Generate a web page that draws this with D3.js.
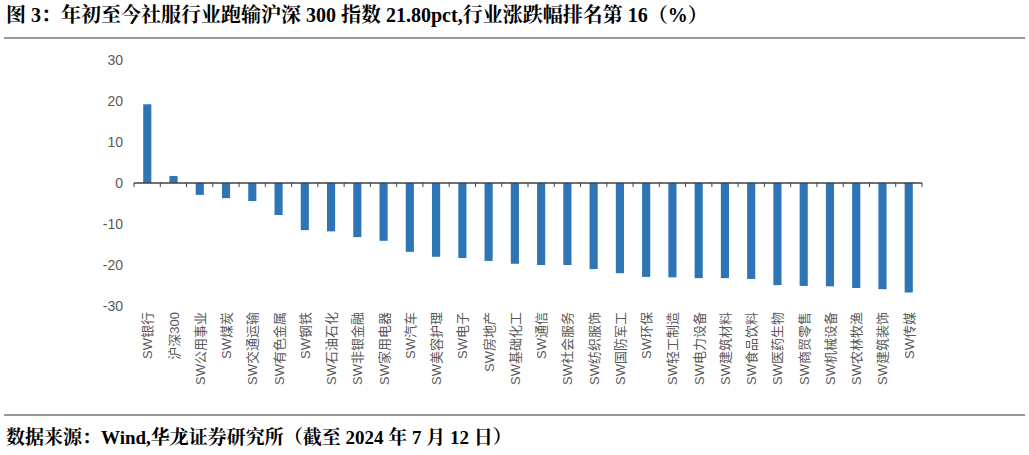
<!DOCTYPE html>
<html><head><meta charset="utf-8">
<script src="https://cdn.jsdelivr.net/npm/d3@7"></script>
<style>body{margin:0;background:#fff}</style></head>
<body><svg id="c" width="1029" height="455"></svg>
<script>
const categories=["SW银行","沪深300","SW公用事业","SW煤炭","SW交通运输","SW有色金属","SW钢铁","SW石油石化","SW非银金融","SW家用电器","SW汽车","SW美容护理","SW电子","SW房地产","SW基础化工","SW通信","SW社会服务","SW纺织服饰","SW国防军工","SW环保","SW轻工制造","SW电力设备","SW建筑材料","SW食品饮料","SW医药生物","SW商贸零售","SW机械设备","SW农林牧渔","SW建筑装饰","SW传媒"];
const values=[19.2,1.7,-2.9,-3.7,-4.4,-7.8,-11.5,-11.8,-13.2,-14.1,-16.8,-18.0,-18.3,-19.0,-19.7,-20.0,-20.0,-21.0,-22.0,-22.9,-23.0,-23.2,-23.2,-23.4,-24.9,-25.1,-25.2,-25.6,-25.9,-26.7];
const yTicks=[30,20,10,0,-10,-20,-30];
const svg=d3.select("#c");
const x=d3.scaleBand().domain(categories).range([134,922]).paddingInner(0.69).paddingOuter(0.35);
const y=d3.scaleLinear().domain([-30,30]).range([306,60]);
const serif="'Liberation Serif','Noto Serif CJK SC','Noto Sans CJK SC',serif";
svg.append("text").attr("x",6).attr("y",22).attr("font-family",serif).attr("font-weight","bold").attr("font-size",20).attr("fill","#000").text("图 3：年初至今社服行业跑输沪深 300 指数 21.80pct,行业涨跌幅排名第 16（%）");
svg.append("line").attr("x1",4).attr("x2",1025).attr("y1",38).attr("y2",38).attr("stroke","#333").attr("stroke-width",1);
svg.append("line").attr("x1",4).attr("x2",1025).attr("y1",415).attr("y2",415).attr("stroke","#333").attr("stroke-width",1);
svg.append("text").attr("x",6).attr("y",444).attr("font-family",serif).attr("font-weight","bold").attr("font-size",19).text("数据来源：Wind,华龙证券研究所（截至 2024 年 7 月 12 日）");
const g=svg.append("g").attr("font-family","'Liberation Sans',Arial,'Noto Sans CJK SC',sans-serif");
yTicks.forEach(t=>g.append("text").attr("x",123).attr("y",y(t)+5).attr("text-anchor","end").attr("font-size",14).attr("fill","#595959").text(t));
g.selectAll("rect").data(values).join("rect").attr("x",(d,i)=>x(categories[i])).attr("width",x.bandwidth())
 .attr("y",d=>y(Math.max(0,d))).attr("height",d=>Math.abs(y(d)-y(0))).attr("fill","#2e75b6");
g.append("line").attr("x1",134).attr("x2",922).attr("y1",y(0)).attr("y2",y(0)).attr("stroke","#404040").attr("stroke-width",1.5);
for(let i=0;i<=categories.length;i++){const xx=134+i*(788/categories.length);g.append("line").attr("x1",xx).attr("x2",xx).attr("y1",y(0)).attr("y2",y(0)+4).attr("stroke","#404040");}
categories.forEach(c=>{const cx=x(c)+x.bandwidth()/2;g.append("text").attr("transform",`translate(${cx+5},312) rotate(-90)`).attr("text-anchor","end").attr("font-size",13).attr("fill","#595959").text(c);});
</script></body></html>
